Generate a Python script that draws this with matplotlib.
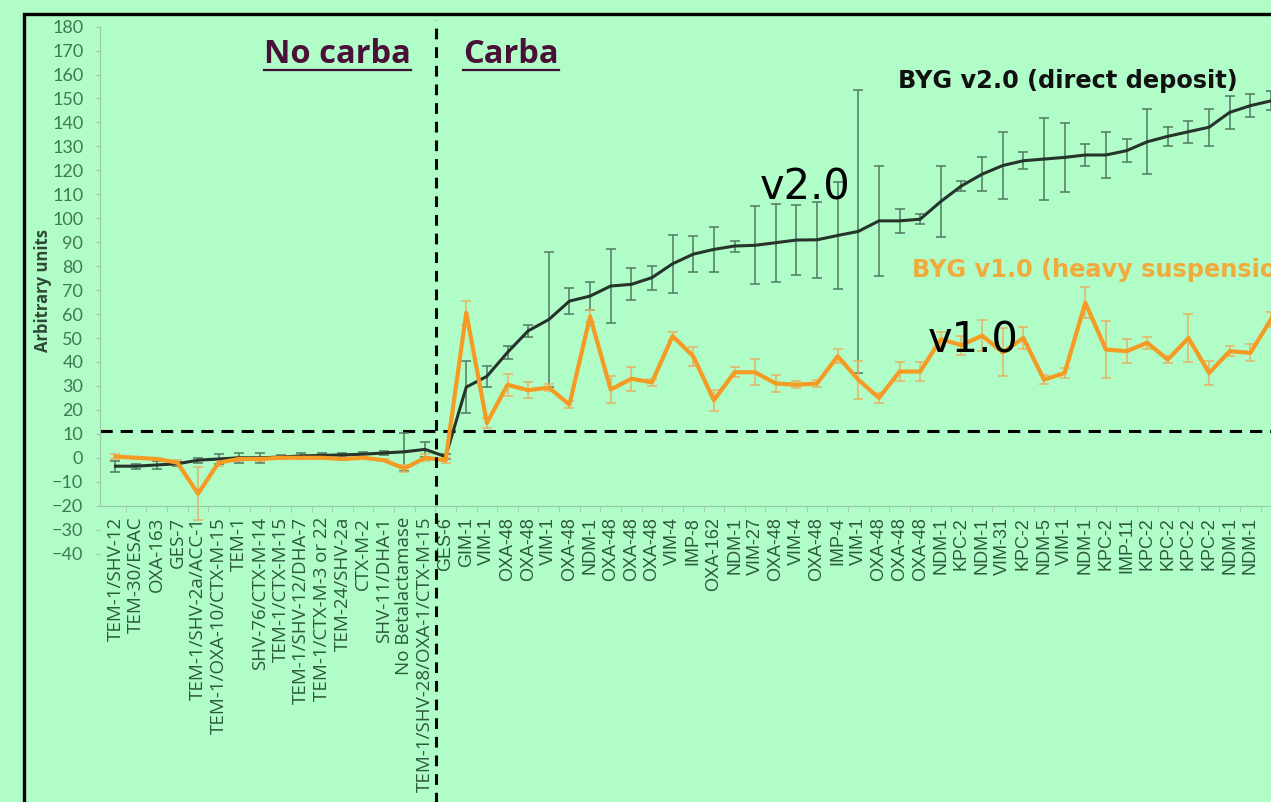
import matplotlib.pyplot as plt
import numpy as np
from matplotlib.lines import Line2D
from matplotlib.patches import Rectangle
from matplotlib.transforms import IdentityTransform

# Categories (beta-lactamases); the last one is cut off at the right edge
no_carba = [
    "TEM-1/SHV-12", "TEM-30/ESAC", "OXA-163", "GES-7", "TEM-1/SHV-2a/ACC-1",
    "TEM-1/OXA-10/CTX-M-15", "TEM-1", "SHV-76/CTX-M-14", "TEM-1/CTX-M-15",
    "TEM-1/SHV-12/DHA-7", "TEM-1/CTX-M-3 or 22", "TEM-24/SHV-2a", "CTX-M-2",
    "SHV-11/DHA-1", "No Betalactamase", "TEM-1/SHV-28/OXA-1/CTX-M-15",
]
carba = [
    "GES-6", "GIM-1", "VIM-1", "OXA-48", "OXA-48", "VIM-1", "OXA-48", "NDM-1",
    "OXA-48", "OXA-48", "OXA-48", "VIM-4", "IMP-8", "OXA-162", "NDM-1", "VIM-27",
    "OXA-48", "VIM-4", "OXA-48", "IMP-4", "VIM-1", "OXA-48", "OXA-48", "OXA-48",
    "NDM-1", "KPC-2", "NDM-1", "VIM-31", "KPC-2", "NDM-5", "VIM-1", "NDM-1",
    "KPC-2", "IMP-11", "KPC-2", "KPC-2", "KPC-2", "KPC-2", "NDM-1", "NDM-1", "",
]
labels = no_carba + carba

v2 = [
    -3.5, -3.5, -3, -2.5, -1, -0.5, 0, 0, 0.3, 0.8, 1, 1.2, 1.5, 2, 2.5, 3.5,
    0.5, 29.5, 34, 44, 53, 57.7, 65.4, 67.5, 71.7, 72.4, 75.2, 81, 85, 87, 88.4,
    88.7, 89.8, 90.9, 91, 92.8, 94.5, 98.9, 98.9, 99.6, 107, 113.5, 118.4, 122,
    124, 124.7, 125.4, 126.4, 126.4, 128.2, 131.9, 134.2, 136.1, 138, 144.2, 147,
    149,
]
v2_err = [
    2.3, 1, 1.5, 0.8, 1, 2, 2, 2, 1, 1, 1, 1, 1, 1, 8, 3,
    1, 10.7, 4.5, 2.8, 2.5, 28, 5.4, 6, 15.5, 6.7, 5, 12.2, 7.5, 9.3, 2.3,
    16.3, 16.3, 14.6, 15.8, 22.5, 59, 23, 4.9, 2, 14.8, 2, 7.2, 14,
    3.5, 17, 14.4, 4.7, 9.5, 4.7, 13.6, 4, 4.5, 7.7, 7, 4.7,
    4,
]
v1 = [
    0.5, 0, -0.5, -2, -15, -2, -0.5, -0.5, 0, 0, 0, -0.5, 0, -1, -4.5, 0,
    -1, 60.5, 14.5, 30.5, 28.2, 29.3, 22.2, 59, 28.5, 33, 31.5, 50.8, 42.4, 24,
    35.7, 35.7, 31, 30.5, 31, 42.4, 32.6, 25, 36, 36, 49.5, 47, 51, 44, 50, 32.6,
    35.4, 64.7, 45.2, 44.5, 48, 41, 50, 35.4, 44.5, 43.8, 57.8,
]
v1_err = [
    1, 0.5, 0.5, 1, 11, 1.5, 1, 1, 0.5, 0.5, 0.5, 0.5, 0.5, 0.5, 1.5, 1.5,
    1, 5, 2, 4.5, 3.3, 1.5, 1.5, 2.5, 5.5, 5, 1.5, 1.5, 4, 4.5, 2,
    5.5, 3.5, 1.5, 1.5, 3, 8, 2, 4, 4, 3, 4, 6.5, 10, 4.5, 2,
    2, 6.5, 12, 5, 2.5, 1.5, 10, 5, 2, 3.5, 3,
]
threshold = 11
y_ticks = list(range(-40, 181, 10))

BG = "#b0fdc8"
DARK = "#26342b"
ORANGE = "#f59a23"
AXIS = "#9cc8a8"

W, H = 1271, 802
fig = plt.figure(figsize=(W / 100, H / 100), dpi=100, facecolor=BG)
ax = fig.add_axes([100 / W, 1 - 553.6 / H, 1171 / W, 527 / H])
ax.set_facecolor(BG)

x = np.arange(len(labels))
ax.errorbar(x, v2, yerr=v2_err, fmt="none", ecolor="#4f7a60", elinewidth=1.1,
            capsize=3.5, capthick=1.1, zorder=2)
ax.errorbar(x, v1, yerr=v1_err, fmt="none", ecolor="#e5b464", elinewidth=1.1,
            capsize=3.5, capthick=1.1, zorder=2)
ax.plot(x, v2, color=DARK, lw=2.2, zorder=3)
ax.plot(x, v1, color=ORANGE, lw=3.0, zorder=4)

# threshold and group separator
ax.axhline(threshold, color="black", lw=2.2, dashes=(4, 2.6), zorder=1)
sep = len(no_carba) - 0.45
ax.axvline(sep, ymin=-0.5, ymax=1.013, color="black", lw=2.2, dashes=(3.5, 2.6),
           clip_on=False, zorder=5)

ax.set_xlim(-0.75, 55.5)
ax.set_ylim(-40, 180)

for s in ("top", "right"):
    ax.spines[s].set_visible(False)
ax.spines["left"].set_color(AXIS)
ax.spines["left"].set_bounds(-20, 180)
ax.spines["bottom"].set_color(AXIS)
ax.spines["bottom"].set_position(("data", -20))

ax.set_yticks(y_ticks)
ax.tick_params(axis="y", length=3, color=AXIS, pad=9, labelsize=13,
               labelcolor="#3f7a50")
ax.set_xticks(x)
ax.set_xticks(x[:-1] + 0.5, minor=True)
ax.tick_params(axis="x", which="major", length=0, pad=8, labelrotation=90,
               labelsize=13, labelcolor="#2c5a3c")
ax.tick_params(axis="x", which="minor", length=4, color=AXIS, direction="out")
ax.set_xticklabels(labels)

fig.canvas.draw()
for t in ax.get_yticklabels():
    t.set_family("Lato")
for i, t in enumerate(ax.get_xticklabels()):
    if i < len(no_carba):
        t.set_family("Open Sans")
        t.set_fontsize(13.5)
    else:
        t.set_family("Liberation Sans")

fig.text(43 / W, 1 - 291 / H, "Arbitrary units", rotation=90, fontsize=12,
         fontweight="bold", family="Open Sans", color="#2c4a36",
         ha="center", va="center")

# headers
t_no = fig.text(264 / W, 1 - 63 / H, "No carba", fontsize=23.5, fontweight="bold",
                family="Open Sans", color="#4b1038", va="baseline")
t_ca = fig.text(463 / W, 1 - 63 / H, "Carba", fontsize=23.5, fontweight="bold",
                family="Open Sans", color="#4b1038", va="baseline")
fig.text(898 / W, 1 - 88 / H, "BYG v2.0 (direct deposit)", fontsize=17.3,
         fontweight="bold", family="DejaVu Sans", color="#111111", va="baseline")
fig.text(912 / W, 1 - 277 / H, "BYG v1.0 (heavy suspension)", fontsize=17.3,
         fontweight="bold", family="DejaVu Sans", color="#f3aa3c", va="baseline")
fig.text(760 / W, 1 - 200 / H, "v2.0", fontsize=30, family="DejaVu Sans",
         color="black", va="baseline", zorder=6)
fig.text(928 / W, 1 - 353 / H, "v1.0", fontsize=30, family="DejaVu Sans",
         color="black", va="baseline", zorder=6)

fig.canvas.draw()
for t in (t_no, t_ca):
    bb = t.get_window_extent()
    yl = H - 69.5
    fig.add_artist(Line2D([bb.x0, bb.x1], [yl, yl], transform=IdentityTransform(),
                          color="#3b1030", lw=1.6))

# outer frame of the slide
fig.add_artist(Rectangle((24 / W, -0.1), 1.2, 1 - 14 / H + 0.1,
                         transform=fig.transFigure, fill=False, ec="black", lw=2.4))

fig.savefig("out.png", dpi=100, facecolor=BG)
